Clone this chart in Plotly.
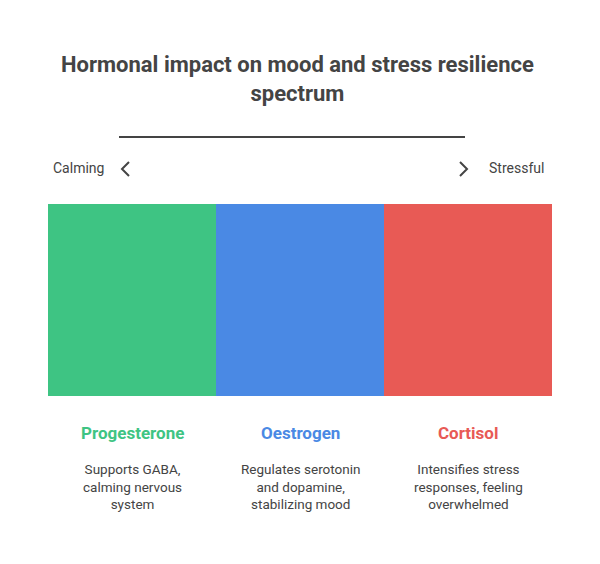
import plotly.graph_objects as go

categories = ["Progesterone", "Oestrogen", "Cortisol"]
values = [1, 1, 1]
colors = ["#3EC483", "#4A89E4", "#E85A55"]
descriptions = ["Supports GABA,<br>calming nervous<br>system",
                "Regulates serotonin<br>and dopamine,<br>stabilizing mood",
                "Intensifies stress<br>responses, feeling<br>overwhelmed"]

W, H = 600, 564
def py(y): return 1 - y / H
def px(x): return x / W

fig = go.Figure(go.Bar(x=categories, y=values, marker=dict(color=colors, line=dict(width=0)),
                       hoverinfo="skip"))
fig.update_layout(
    width=W, height=H, margin=dict(l=0, r=0, t=0, b=0),
    paper_bgcolor="white", plot_bgcolor="white", bargap=0, showlegend=False,
    font=dict(family="Roboto", color="#444"),
    xaxis=dict(domain=[px(48), px(552)], visible=False, fixedrange=True),
    yaxis=dict(domain=[py(396), py(204)], visible=False, range=[0, 1], fixedrange=True),
)
def A(**k):
    k.setdefault("xanchor", "center"); k.setdefault("yanchor", "middle")
    k.setdefault("showarrow", False); return k
ann = [
    A(x=0.495, y=py(79), xref="paper", yref="paper",
      text="<b>Hormonal impact on mood and stress resilience<br>spectrum</b>",
      font=dict(size=22, color="#444"), align="center"),
    A(x=px(78), y=py(168), xref="paper", yref="paper",
      text="Calming", font=dict(size=14, color="#444")),
    A(x=px(516), y=py(168), xref="paper", yref="paper",
      text="Stressful", font=dict(size=14, color="#444")),
]
for c, col, d in zip(categories, colors, descriptions):
    ann.append(A(x=c, y=py(433), xref="x", yref="paper",
                 text=f"<b>{c}</b>", font=dict(size=17, color=col)))
    ann.append(A(x=c, y=py(486), xref="x", yref="paper",
                 text=d, font=dict(size=13.5, color="#444"), align="center"))
fig.update_layout(annotations=ann)
fig.update_layout(shapes=[
    dict(type="line", xref="paper", yref="paper", x0=px(119), x1=px(465), y0=py(137), y1=py(137),
         line=dict(color="#444", width=2)),
    dict(type="path", xref="paper", yref="paper",
         path=f"M {px(129)} {py(162)} L {px(122)} {py(169)} L {px(129)} {py(176)}",
         line=dict(color="#444", width=2)),
    dict(type="path", xref="paper", yref="paper",
         path=f"M {px(460)} {py(162)} L {px(467)} {py(169)} L {px(460)} {py(176)}",
         line=dict(color="#444", width=2)),
])
fig.write_html("out.html", config={"displayModeBar": False})
with open("out.html", encoding="utf-8") as f:
    html = f.read()
html = html.replace("<body>", '<body style="margin:0;overflow:hidden">', 1)
with open("out.html", "w", encoding="utf-8") as f:
    f.write(html)
